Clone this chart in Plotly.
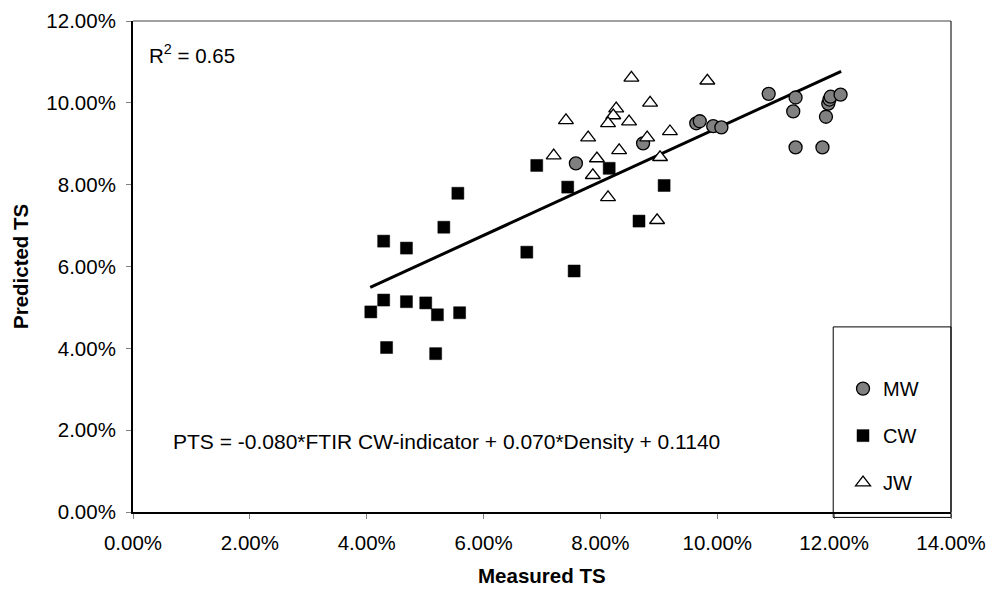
import plotly.graph_objects as go

# ---- data (percent) ----
mw_x = [7.58, 8.73, 9.64, 9.70, 9.93, 10.07, 10.88, 11.34, 11.30, 11.34, 11.80, 11.86, 11.90, 11.92, 11.94, 12.11]
mw_y = [8.52, 9.01, 9.50, 9.55, 9.43, 9.40, 10.22, 10.13, 9.79, 8.91, 8.91, 9.66, 9.98, 10.08, 10.15, 10.20]

cw_x = [4.07, 4.29, 4.29, 4.34, 4.68, 4.68, 5.01, 5.21, 5.18, 5.32, 5.59, 5.56, 6.74, 7.55, 7.44, 8.66, 9.09, 6.91, 8.15]
cw_y = [4.89, 5.18, 6.62, 4.02, 5.14, 6.45, 5.11, 4.82, 3.87, 6.96, 4.87, 7.79, 6.35, 5.89, 7.94, 7.11, 7.98, 8.47, 8.40]

jw_x = [8.53, 9.83, 8.85, 8.27, 8.22, 7.41, 8.13, 8.49, 9.19, 7.79, 8.80, 7.20, 7.94, 8.32, 9.02, 7.87, 8.13, 8.97]
jw_y = [10.61, 10.54, 10.00, 9.86, 9.69, 9.57, 9.50, 9.54, 9.30, 9.15, 9.15, 8.71, 8.64, 8.84, 8.67, 8.23, 7.69, 7.13]

fit_x = [4.06, 12.12]
fit_y = [5.49, 10.77]

tick_vals_x = [0, 2, 4, 6, 8, 10, 12, 14]
tick_text_x = ["0.00%", "2.00%", "4.00%", "6.00%", "8.00%", "10.00%", "12.00%", "14.00%"]
tick_vals_y = [0, 2, 4, 6, 8, 10, 12]
tick_text_y = ["0.00%", "2.00%", "4.00%", "6.00%", "8.00%", "10.00%", "12.00%"]

FONT = "Liberation Sans, Arial, Helvetica, sans-serif"
FS = 20.5

fig = go.Figure()
fig.add_trace(go.Scatter(x=fit_x, y=fit_y, mode="lines", line=dict(color="black", width=3),
                         showlegend=False, hoverinfo="skip"))
fig.add_trace(go.Scatter(x=mw_x, y=mw_y, mode="markers", name="MW", legendgroup="a",
                         marker=dict(symbol="circle", size=13, color="#808080",
                                     line=dict(color="black", width=1.3))))
fig.add_trace(go.Scatter(x=cw_x, y=cw_y, mode="markers", name="CW", legendgroup="b",
                         marker=dict(symbol="square", size=12, color="black",
                                     line=dict(color="black", width=0.5))))
fig.add_trace(go.Scatter(x=jw_x, y=jw_y, mode="markers", name="JW", legendgroup="c",
                         marker=dict(symbol="triangle-up", size=13, color="white",
                                     line=dict(color="black", width=1.3))))

# page has an 8px body margin, so the figure is 8px smaller and margins shifted
fig.update_layout(
    width=991, height=582,
    margin=dict(l=125, r=48, t=13, b=78, autoexpand=False),
    paper_bgcolor="white", plot_bgcolor="white",
    font=dict(family=FONT, size=FS, color="black"),
    showlegend=True,
    legend=dict(x=0.868, xanchor="left", y=0.291, yanchor="top",
                bgcolor="rgba(0,0,0,0)", borderwidth=0,
                tracegroupgap=18, font=dict(size=20)),
    xaxis=dict(range=[0, 14], tickmode="array", tickvals=tick_vals_x, ticktext=tick_text_x,
               showgrid=False, zeroline=False, showline=True, linecolor="black", linewidth=1.5,
               ticks="outside", ticklen=5, tickcolor="#808080", tickwidth=1.2,
               ticklabelstandoff=7),
    yaxis=dict(range=[0, 12], tickmode="array", tickvals=tick_vals_y, ticktext=tick_text_y,
               showgrid=False, zeroline=False, showline=True, linecolor="black", linewidth=2,
               ticks="outside", ticklen=5, tickcolor="#808080", tickwidth=1.2,
               ticklabelstandoff=6),
    shapes=[
        dict(type="line", xref="paper", yref="paper", x0=0, x1=1, y0=1, y1=1,
             line=dict(color="#808080", width=1.5)),
        dict(type="line", xref="paper", yref="paper", x0=1, x1=1, y0=0, y1=1,
             line=dict(color="#333333", width=1.3)),
        dict(type="rect", xref="paper", yref="paper", x0=0.856, x1=1, y0=-0.011, y1=0.377,
             line=dict(color="black", width=1), fillcolor="rgba(0,0,0,0)"),
    ],
    annotations=[
        dict(text="R<sup>2</sup> = 0.65", xref="paper", yref="paper", x=0.017, y=0.9336,
             xanchor="left", yanchor="middle", showarrow=False, font=dict(size=FS)),
        dict(text="PTS = -0.080*FTIR CW-indicator + 0.070*Density + 0.1140",
             xref="paper", yref="paper", x=0.0465, y=0.1426,
             xanchor="left", yanchor="middle", showarrow=False, font=dict(size=21)),
        dict(text="<b>Measured TS</b>", xref="paper", yref="paper", x=0.5, y=-0.129,
             xanchor="center", yanchor="middle", showarrow=False, font=dict(size=20.5)),
        dict(text="<b>Predicted TS</b>", xref="paper", yref="paper", x=-0.1375, y=0.5,
             xanchor="center", yanchor="middle", textangle=-90, showarrow=False,
             font=dict(size=20.5)),
    ],
)

fig.write_html("out.html")
